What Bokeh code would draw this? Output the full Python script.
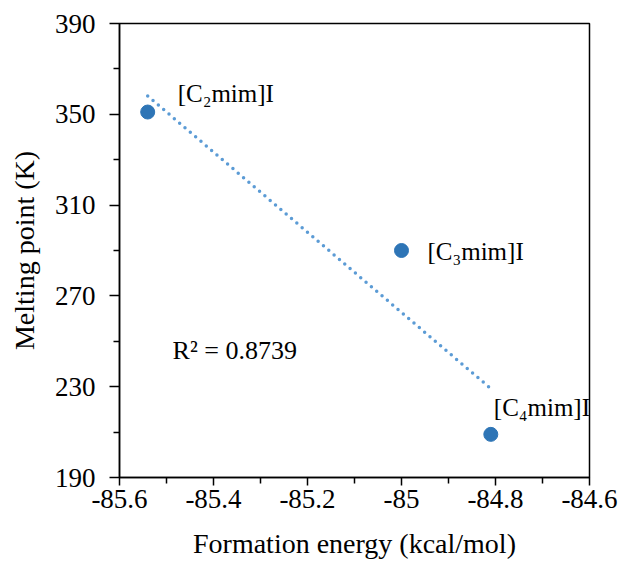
import numpy as np
from bokeh.plotting import figure
from bokeh.models import ColumnDataSource, FixedTicker, Range1d
from bokeh.core.properties import value
from bokeh.embed import file_html
from bokeh.resources import INLINE

# data
names = ["[C₂mim]I", "[C₃mim]I", "[C₄mim]I"]
formation_energy = [-85.54, -85.00, -84.81]
melting_point = [351, 290, 209]
r2_label = "R² = 0.8739"
x_ticks = [-85.6, -85.4, -85.2, -85.0, -84.8, -84.6]
x_tick_labels = ["-85.6", "-85.4", "-85.2", "-85", "-84.8", "-84.6"]
y_ticks = [190, 230, 270, 310, 350, 390]

FONT = "Liberation Serif"

p = figure(frame_width=470, frame_height=454, output_backend="svg",
           toolbar_location=None, x_range=Range1d(-85.6, -84.6),
           y_range=Range1d(190, 390),
           min_border_left=119, min_border_right=42,
           min_border_top=23, min_border_bottom=86)
p.background_fill_color = "white"
p.border_fill_color = "white"
p.outline_line_color = "black"
p.outline_line_width = 1.5
p.xgrid.visible = False
p.ygrid.visible = False

# trend line from least squares fit
slope, intercept = np.polyfit(formation_energy, melting_point, 1)
tx = [min(formation_energy), max(formation_energy)]
ty = [slope * v + intercept for v in tx]
p.line(tx, ty, line_color="#5B9BD5", line_width=3.5, line_dash="0 7",
       line_cap="round")

src = ColumnDataSource(dict(x=formation_energy, y=melting_point, name=names))
p.scatter("x", "y", source=src, size=14, fill_color="#2E75B6",
          line_color="#2E75B6")

# labels
offs_x = [30, 26, 3]
offs_y = [-19, 1, -27]
lsrc = ColumnDataSource(dict(x=formation_energy, y=melting_point, name=names,
                             xo=offs_x, yo=offs_y))
p.text("x", "y", text="name", source=lsrc, x_offset="xo", y_offset="yo",
       text_font=value(FONT), text_font_size="25px", text_color="black",
       text_align="left", text_baseline="middle")

p.text([-85.487], [246], text=[r2_label], text_font=value(FONT),
       text_font_size="26px", text_color="black", text_align="left",
       text_baseline="middle")

# axes
for ax in (p.xaxis[0], p.yaxis[0]):
    ax.axis_line_color = "black"
    ax.axis_line_width = 1.5
    ax.major_tick_line_color = "black"
    ax.minor_tick_line_color = "black"
    ax.major_tick_line_width = 1.5
    ax.minor_tick_line_width = 1.5
    ax.major_tick_in = 0
    ax.minor_tick_in = 0
    ax.major_label_text_font = FONT
    ax.major_label_text_font_size = "27px"
    ax.major_label_text_color = "black"
    ax.axis_label_text_font = FONT
    ax.axis_label_text_font_size = "28px"
    ax.axis_label_text_font_style = "normal"
    ax.axis_label_text_color = "black"

p.xaxis.ticker = FixedTicker(ticks=x_ticks,
                             minor_ticks=[-85.5, -85.3, -85.1, -84.9, -84.7])
p.xaxis.major_label_overrides = {t: l for t, l in zip(x_ticks, x_tick_labels)}
p.xaxis.major_tick_out = 8
p.xaxis.minor_tick_out = 6
p.xaxis.major_label_standoff = 4
p.xaxis.axis_label = "Formation energy (kcal/mol)"
p.xaxis.axis_label_standoff = 17

p.yaxis.ticker = FixedTicker(ticks=y_ticks,
                             minor_ticks=[210, 250, 290, 330, 370])
p.yaxis.major_tick_out = 10
p.yaxis.minor_tick_out = 6
p.yaxis.major_label_standoff = 14
p.yaxis.axis_label = "Melting point (K)"
p.yaxis.axis_label_standoff = 12

open("out.html", "w").write(file_html(p, INLINE))
